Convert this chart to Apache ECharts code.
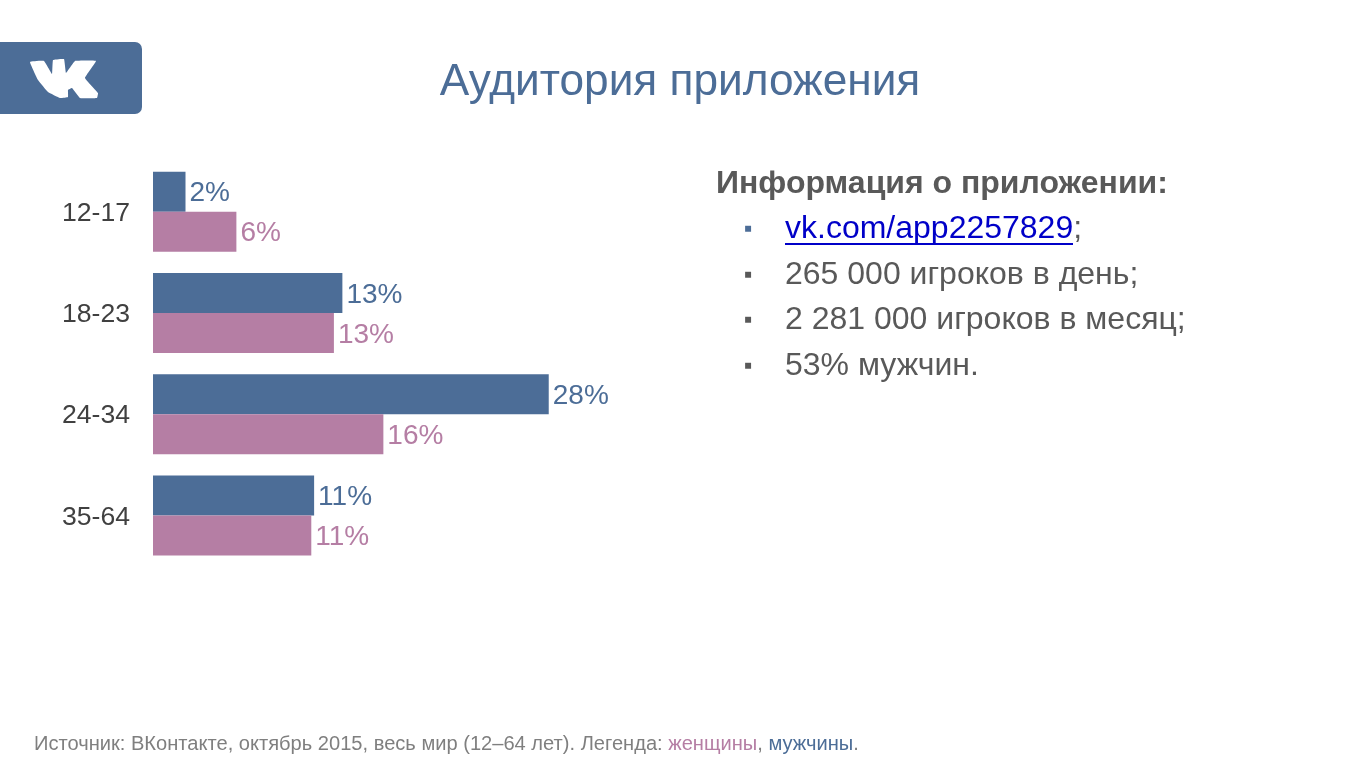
<!DOCTYPE html>
<html>
<head>
<meta charset="utf-8">
<title>Аудитория приложения</title>
<style>
html,body{margin:0;padding:0;background:#fff;}
#main{width:1360px;height:765px;}
</style>
<script src="https://cdn.jsdelivr.net/npm/echarts@6/dist/echarts.min.js"></script>
</head>
<body>
<div id="main"></div>
<script>
var ageGroups = ['12-17','18-23','24-34','35-64'];
var menValues = [2.3,13.4,28,11.4];
var womenValues = [5.9,12.8,16.3,11.2];
var infoLines = ['265 000 игроков в день;','2 281 000 игроков в месяц;','53% мужчин.'];

var blue = '#4c6d97';
var pink = '#b57ea4';
var grey = '#595959';
var font = '"Liberation Sans", Arial, sans-serif';

function pctLabel(p){ return Math.round(p.value)+'%'; }

function makeSeries(name,values,color)
{
	return {
		name:name,
		type:'bar',
		data:values,
		barWidth:40,
		barGap:0,
		itemStyle:{color:color},
		label:{show:true,position:'right',distance:4,offset:[0,2],formatter:pctLabel,color:color,fontFamily:font,fontSize:28}
	};
}

var graphics = [
	// логотип
	{type:'rect',shape:{x:-10,y:42,width:152,height:72,r:7},style:{fill:blue}},
	{type:'polygon',shape:{smooth:0.08,points:[[30,62],[44,61],[52,74],[53,60],[64,59],[66,73],[75,61],[96,61],[85,78],[98,93],[97,98],[80,98],[72,88],[68,90],[68,97],[60,98],[48,92],[38,80]]},style:{fill:'#fff'}},
	// правая колонка
	{type:'text',x:716,y:184,style:{text:'Информация о приложении:',font:'bold 32px '+font,fill:grey,verticalAlign:'middle'}},
	{type:'text',x:744,y:229,style:{text:'▪',font:'24px '+font,fill:blue,verticalAlign:'middle'}},
	{type:'text',x:785,y:229,style:{text:'{a|vk.com/app2257829}{b|;}',verticalAlign:'middle',rich:{a:{font:'32px '+font,fill:'#0000c8'},b:{font:'32px '+font,fill:grey}}}},
	{type:'rect',shape:{x:785,y:243,width:288,height:2},style:{fill:'#0000c8'}},
	{type:'text',x:34,y:744,style:{text:'{g|Источник: ВКонтакте, октябрь 2015, весь мир (12–64 лет). Легенда: }{w|женщины}{g|, }{m|мужчины}{g|.}',verticalAlign:'middle',rich:{g:{font:'20.1px '+font,fill:'#7f7f7f'},w:{font:'20.1px '+font,fill:pink},m:{font:'20.1px '+font,fill:blue}}}}
];
var lineY = [275,320,366];
for(var i=0;i<infoLines.length;i++)
{
	graphics.push({type:'text',x:744,y:lineY[i],style:{text:'▪',font:'24px '+font,fill:grey,verticalAlign:'middle'}});
	graphics.push({type:'text',x:785,y:lineY[i],style:{text:infoLines[i],font:'32px '+font,fill:grey,verticalAlign:'middle'}});
}

var myChart = echarts.init(document.getElementById('main'));
myChart.setOption({
	animation:false,
	backgroundColor:'#fff',
	title:{text:'Аудитория приложения',left:675,top:56,textAlign:'center',textStyle:{color:blue,fontFamily:font,fontSize:44.2,fontWeight:'normal'}},
	grid:{left:153,top:161,width:424,height:405},
	xAxis:{type:'value',min:0,max:30,show:false},
	yAxis:{
		type:'category',
		inverse:true,
		data:ageGroups,
		axisLine:{show:false},
		axisTick:{show:false},
		axisLabel:{
			margin:23,
			formatter:'{a|{value}}',
			rich:{a:{color:'#404040',fontFamily:font,fontSize:26.6,padding:[4,0,0,0]}}
		}
	},
	series:[makeSeries('мужчины',menValues,blue),makeSeries('женщины',womenValues,pink)],
	graphic:graphics
});
</script>
</body>
</html>
